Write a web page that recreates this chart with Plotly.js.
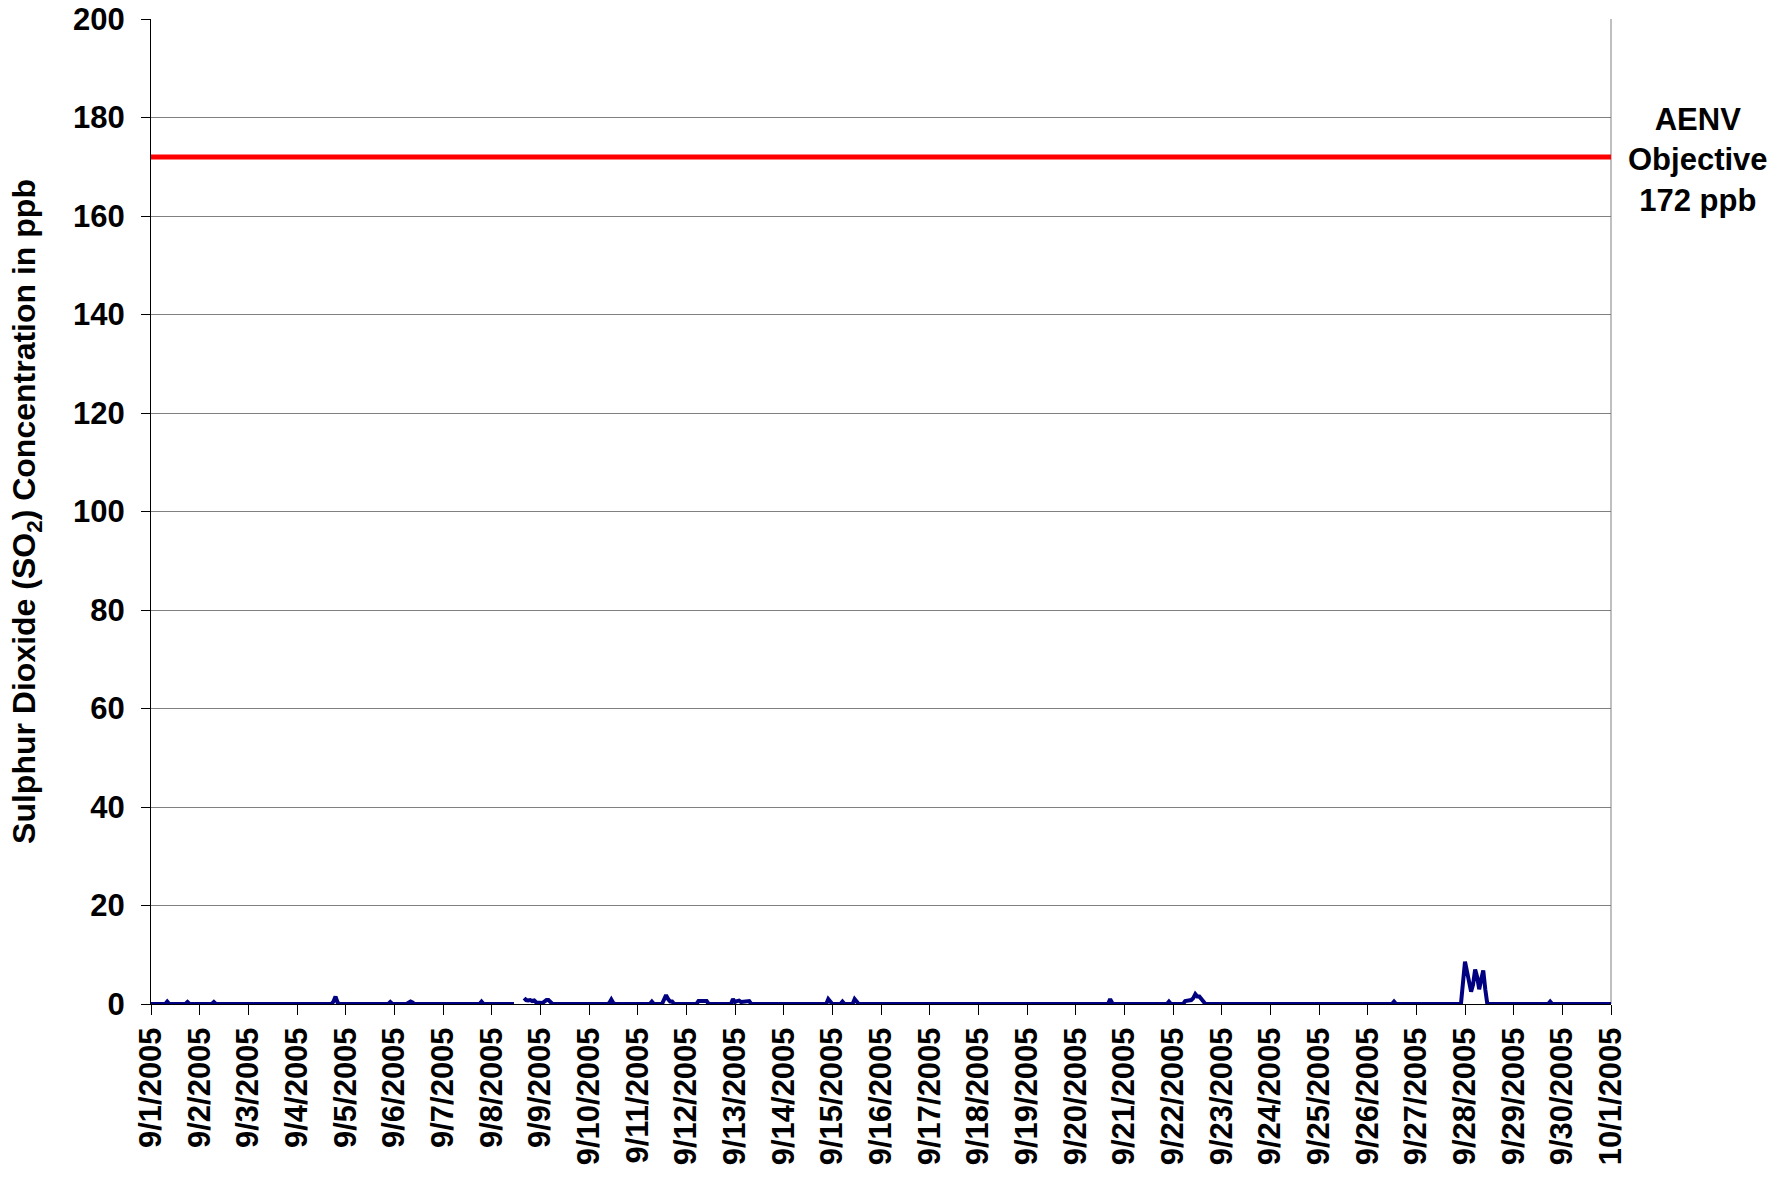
<!DOCTYPE html>
<html>
<head>
<meta charset="utf-8">
<script src="https://cdn.plot.ly/plotly-3.0.1.min.js"></script>
<style>
  html, body { margin: 0; padding: 0; background: #ffffff; }
  #chart { width: 1789px; height: 1177px; }
  #chart text { font-weight: bold !important; }
</style>
</head>
<body>
<div id="chart"></div>
<script>
// Hourly SO2 readings (ppb); only hours around non-zero readings are listed, zeros elsewhere
var times = [
  '2005-09-01 00:00', '2005-09-01 07:00', '2005-09-01 08:00', '2005-09-01 09:00',
  '2005-09-01 17:00', '2005-09-01 18:00', '2005-09-01 19:00',
  '2005-09-02 06:00', '2005-09-02 07:00', '2005-09-02 08:00',
  '2005-09-04 17:00', '2005-09-04 18:00', '2005-09-04 19:00', '2005-09-04 20:00', '2005-09-04 21:00',
  '2005-09-05 21:00', '2005-09-05 22:00', '2005-09-05 23:00',
  '2005-09-06 06:00', '2005-09-06 07:00', '2005-09-06 08:00', '2005-09-06 09:00', '2005-09-06 10:00',
  '2005-09-07 18:00', '2005-09-07 19:00', '2005-09-07 20:00',
  '2005-09-08 11:00', '2005-09-08 12:00',
  '2005-09-08 16:00', '2005-09-08 17:00', '2005-09-08 18:00', '2005-09-08 19:00', '2005-09-08 20:00',
  '2005-09-08 21:00', '2005-09-08 22:00', '2005-09-08 23:00', '2005-09-09 00:00', '2005-09-09 01:00',
  '2005-09-09 02:00', '2005-09-09 03:00', '2005-09-09 04:00', '2005-09-09 05:00', '2005-09-09 06:00',
  '2005-09-10 09:00', '2005-09-10 10:00', '2005-09-10 11:00', '2005-09-10 12:00', '2005-09-10 13:00',
  '2005-09-11 06:00', '2005-09-11 07:00', '2005-09-11 08:00',
  '2005-09-11 12:00', '2005-09-11 13:00', '2005-09-11 14:00', '2005-09-11 15:00', '2005-09-11 16:00',
  '2005-09-11 17:00', '2005-09-11 18:00',
  '2005-09-12 05:00', '2005-09-12 06:00', '2005-09-12 07:00', '2005-09-12 08:00', '2005-09-12 09:00',
  '2005-09-12 10:00', '2005-09-12 11:00',
  '2005-09-12 22:00', '2005-09-12 23:00', '2005-09-13 00:00', '2005-09-13 01:00', '2005-09-13 02:00',
  '2005-09-13 03:00', '2005-09-13 04:00', '2005-09-13 05:00', '2005-09-13 06:00', '2005-09-13 07:00',
  '2005-09-13 08:00',
  '2005-09-14 21:00', '2005-09-14 22:00', '2005-09-14 23:00', '2005-09-15 00:00',
  '2005-09-15 04:00', '2005-09-15 05:00', '2005-09-15 06:00',
  '2005-09-15 10:00', '2005-09-15 11:00', '2005-09-15 12:00', '2005-09-15 13:00',
  '2005-09-20 16:00', '2005-09-20 17:00', '2005-09-20 18:00', '2005-09-20 19:00',
  '2005-09-21 21:00', '2005-09-21 22:00', '2005-09-21 23:00',
  '2005-09-22 05:00', '2005-09-22 06:00', '2005-09-22 07:00', '2005-09-22 08:00', '2005-09-22 09:00',
  '2005-09-22 10:00', '2005-09-22 11:00', '2005-09-22 12:00', '2005-09-22 13:00', '2005-09-22 14:00',
  '2005-09-22 15:00', '2005-09-22 16:00',
  '2005-09-26 12:00', '2005-09-26 13:00', '2005-09-26 14:00',
  '2005-09-27 22:00', '2005-09-28 00:00', '2005-09-28 01:00', '2005-09-28 02:00', '2005-09-28 03:00',
  '2005-09-28 04:00', '2005-09-28 05:00', '2005-09-28 06:00', '2005-09-28 07:00', '2005-09-28 08:00',
  '2005-09-28 09:00', '2005-09-28 10:00', '2005-09-28 11:00',
  '2005-09-29 17:00', '2005-09-29 18:00', '2005-09-29 19:00',
  '2005-10-01 00:00'
];
var so2 = [
  0, 0, 0.5, 0,
  0, 0.4, 0,
  0, 0.4, 0,
  0, 0.5, 1.5, 0.3, 0,
  0, 0.4, 0,
  0, 0.3, 0.5, 0.3, 0,
  0, 0.5, 0,
  0, null,
  1.2, 0.8, 0.7, 0.8, 0.6,
  0.7, 0.3, 0.3, 0.2, 0.2,
  0.5, 0.8, 0.8, 0.3, 0,
  0, 0.2, 0.9, 0.2, 0,
  0, 0.5, 0,
  0, 0.8, 1.8, 1.0, 0.5,
  0.5, 0,
  0, 0.6, 0.6, 0.6, 0.6,
  0.6, 0,
  0, 1.0, 0.4, 0.6, 0.7,
  0.4, 0.5, 0.5, 0.7, 0.6,
  0,
  0, 1.0, 0.4, 0,
  0, 0.5, 0,
  0, 1.0, 0.3, 0,
  0, 1.0, 0.2, 0,
  0, 0.5, 0,
  0, 0.6, 0.6, 0.6, 0.8,
  1.2, 2.0, 1.5, 1.5, 1.0,
  0.6, 0,
  0, 0.5, 0,
  0, 8.6, 6.6, 5.0, 2.5,
  4.0, 7.0, 5.5, 3.0, 5.0,
  6.8, 3.0, 0,
  0, 0.5, 0,
  0
];
var objectiveValue = 172;
var objectiveSpan = ['2005-09-01 00:00', '2005-10-01 00:00'];
var objectiveLabel = ['AENV', 'Objective', '172 ppb'];
var yTitle = 'Sulphur Dioxide (SO<sub>2</sub>) Concentration in ppb';

var FONT = 'Liberation Sans, Arial, Helvetica, sans-serif';

var traces = [
  {
    x: objectiveSpan,
    y: [objectiveValue, objectiveValue],
    type: 'scatter', mode: 'lines',
    line: { color: '#ff0000', width: 5 },
    hoverinfo: 'skip', showlegend: false
  },
  {
    x: times,
    y: so2,
    type: 'scatter', mode: 'lines',
    connectgaps: false,
    line: { color: '#000080', width: 4 },
    showlegend: false
  }
];

var layout = {
  width: 1789, height: 1177,
  margin: { l: 151, r: 178, t: 19, b: 173, pad: 0 },
  paper_bgcolor: '#ffffff', plot_bgcolor: '#ffffff',
  font: { family: FONT, size: 31, color: '#000000', weight: 'bold' },
  showlegend: false,
  xaxis: {
    type: 'date',
    range: objectiveSpan,
    tick0: '2005-09-01',
    dtick: 86400000,
    tickformat: '%-m/%-d/%Y',
    tickangle: -90,
    ticks: 'outside', ticklen: 10, tickwidth: 1, tickcolor: '#000000',
    showgrid: false, zeroline: false,
    showline: true, linecolor: '#000000', linewidth: 1,
    tickfont: { family: FONT, size: 31, color: '#000000', weight: 'bold' },
    automargin: false
  },
  yaxis: {
    range: [0, 200],
    tick0: 0, dtick: 20,
    ticks: 'outside', ticklen: 9, tickwidth: 1, tickcolor: '#000000',
    ticklabelstandoff: 10,
    showgrid: true, gridcolor: '#808080', gridwidth: 1,
    zeroline: false,
    showline: true, linecolor: '#000000', linewidth: 1,
    tickfont: { family: FONT, size: 31, color: '#000000', weight: 'bold' },
    title: { text: yTitle, font: { family: FONT, size: 32, color: '#000000', weight: 'bold' }, standoff: 27 },
    automargin: false
  },
  shapes: [
    { type: 'line', xref: 'paper', yref: 'paper', x0: 1, x1: 1, y0: 0, y1: 1,
      line: { color: '#808080', width: 1 }, layer: 'below' }
  ],
  annotations: [
    { xref: 'paper', yref: 'y', x: 1.0596, y: objectiveValue - 0.6,
      xanchor: 'center', yanchor: 'middle', showarrow: false, align: 'center',
      text: objectiveLabel.join('<br>'),
      font: { family: FONT, size: 31, color: '#000000', weight: 'bold' } }
  ]
};

Plotly.newPlot('chart', traces, layout, { staticPlot: true, displayModeBar: false });
</script>
</body>
</html>
